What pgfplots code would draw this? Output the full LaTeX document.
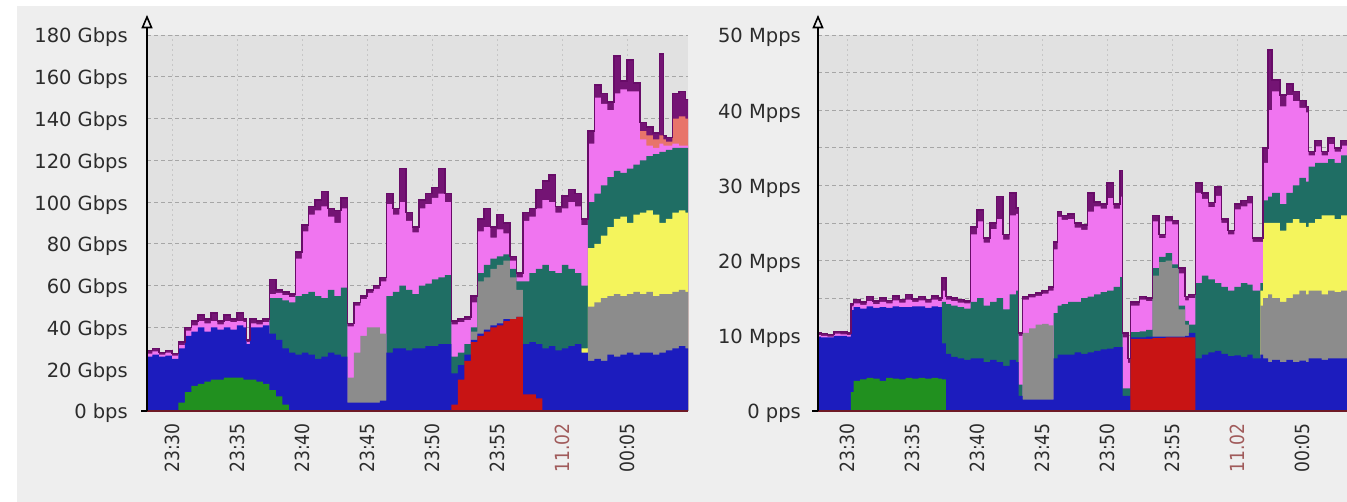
\documentclass[border=0pt]{standalone}
\usepackage{pgfplots}
\pgfplotsset{compat=1.18}
\usepackage{pgfplotstable}
\usepackage{fontspec}
\setmainfont{DejaVu Sans}

\definecolor{panelbg}{HTML}{EEEEEE}
\definecolor{plotbg}{HTML}{E1E1E1}
\definecolor{hgrid}{HTML}{A6A6A6}
\definecolor{vgrid}{HTML}{C6C6C6}
\definecolor{dayline}{HTML}{8A8A8A}
\definecolor{daycol}{HTML}{A05A5A}
\definecolor{txt}{HTML}{2C2C2C}
\definecolor{cblue}{HTML}{1C1CBE}
\definecolor{cgreen}{HTML}{21901F}
\definecolor{cred}{HTML}{C81414}
\definecolor{cgray}{HTML}{8C8C8C}
\definecolor{cteal}{HTML}{1F6E64}
\definecolor{cyellow}{HTML}{F4F45C}
\definecolor{cpink}{HTML}{F075F0}
\definecolor{csalmon}{HTML}{E8746A}
\definecolor{cpurple}{HTML}{741474}
\definecolor{cline}{HTML}{680C68}
\definecolor{zeroline}{HTML}{6E1A26}

% columns: t = minutes after 23:30; cumulative tops of stacked layers
% U top(purple) S salmon P pink T teal Y yellow A gray B blue R red G green
\pgfplotstableread{
t U S P T Y A B R G
-2.0 29 0 27.5 0 0 0 26 0 0
-1.5 30 0 28.5 0 0 0 27 0 0
-1.0 28 0 27 0 0 0 26 0 0
-0.5 29 0 28 0 0 0 26.5 0 0
0.0 27.5 0 26.5 0 0 0 25 0 0
0.5 33 0 31.5 0 0 0 30 0 4
1.0 40 0 38.5 0 0 0 36 0 9
1.5 43 0 41 0 0 0 38 0 12
2.0 46 0 43 0 0 0 40 0 13
2.5 44 0 42 0 0 0 38 0 14
3.0 47 0 43 0 0 0 40 0 15
3.5 43 0 41.5 0 0 0 39 0 15
4.0 46 0 43 0 0 0 40 0 16
4.5 44 0 42.5 0 0 0 39 0 16
5.0 47 0 43 0 0 0 41 0 16
5.5 44 0 42.5 0 0 0 40 0 15
5.75 34 0 33 0 0 0 32 0 15
6.0 44 0 42 0 0 0 40 0 15
6.5 43 0 41.5 0 0 0 40 0 14
7.0 44 0 42.5 0 0 0 41 0 13
7.5 63 0 56 54 0 0 37 0 10
8.0 58 0 56.5 54 0 0 34 0 7
8.5 57 0 55.5 53 0 0 30 0 3
9.0 56 0 54.5 52 0 0 28 0 0
9.5 76 0 73 55 0 0 27 0 0
10.0 89 0 86 56 0 0 28 0 0
10.5 98 0 94 57 0 0 27 0 0
11.0 101 0 96 55 0 0 25 0 0
11.5 105 0 98 54 0 0 26 0 0
12.0 97 0 93 58 0 0 28 0 0
12.5 96 0 90 55 0 0 27 0 0
13.0 102 0 97 59 0 0 26 0 0
13.5 42 0 40.5 0 0 16 4 0 0
14.0 52 0 50.5 0 0 28 4 0 0
14.5 55 0 53.5 0 0 36 4 0 0
15.0 58 0 56.5 0 0 40 4 0 0
15.5 60 0 58.5 0 0 40 4 0 0
16.0 64 0 62 0 0 37 5 0 0
16.5 104 0 99 55 0 0 28 0 0
17.0 97 0 94 57 0 0 30 0 0
17.5 116 0 100 60 0 0 30 0 0
18.0 95 0 91 58 0 0 29 0 0
18.5 88 0 85.5 56 0 0 30 0 0
19.0 101 0 97 60 0 0 30 0 0
19.5 104 0 99 61 0 0 31 0 0
20.0 107 0 102 63 0 0 31 0 0
20.5 116 0 104 64 0 0 32 0 0
21.0 104 0 100 65 0 0 32 0 0
21.5 43 0 41.5 26 0 0 18 3 0
22.0 44 0 42.5 28 0 0 22 15 0
22.5 45 0 43.5 32 0 0 27 24 0
23.0 55 0 52 40 0 38 34 33 0
23.5 92 0 86 66 0 62 37 36 0
24.0 97 0 88 70 0 64 39 38 0
24.5 88 0 83 73 0 68 41 40 0
25.0 94 0 87 74 0 70 42 41 0
25.5 90 0 85 75 0 72 44 43 0
26.0 74 0 72 68 0 64 44 44 0
26.5 66 0 64 62 0 58 45 45 0
27.0 95 0 91 62 0 0 32 8 0
27.5 97 0 93 66 0 0 33 8 0
28.0 106 0 97 68 0 0 32 6 0
28.5 110 0 101 70 0 0 30 0 0
29.0 113 0 100 67 0 0 31 0 0
29.5 98 0 95 66 0 0 29 0 0
30.0 103 0 97 70 0 0 30 0 0
30.5 106 0 100 68 0 0 31 0 0
31.0 104 0 98 66 0 0 32 0 0
31.5 92 0 89 60 30 0 28 0 0
32.0 134 0 128 100 78 50 24 0 0
32.5 156 0 150 104 80 52 25 0 0
33.0 152 0 147 108 84 54 24 0 0
33.5 148 0 144 112 88 55 27 0 0
34.0 170 0 152 115 92 56 26 0 0
34.5 158 0 154 114 93 55 27 0 0
35.0 168 0 153 116 90 56 28 0 0
35.5 157 0 153 118 94 57 27 0 0
36.0 138 134 130 120 95 56 28 0 0
36.5 136 132 127 122 96 57 28 0 0
37.0 133 130 126 123 94 55 27 0 0
37.5 171 132 128 124 90 56 28 0 0
37.8 132 130 127 124 90 56 28 0 0
38.0 131 129 127 125 92 56 29 0 0
38.5 152 140 128 126 95 57 30 0 0
39.0 153 141 127 126 96 58 31 0 0
39.5 149 140 127 126 95 57 30 0 0
40.0 149 140 127 126 95 57 30 0 0
}\leftdata

\pgfplotstableread{
t U S P T Y A B R G
-2.5 10.4 0 10.1 0 0 0 9.9 0 0
-2.0 10.3 0 10.0 0 0 0 9.8 0 0
-1.5 10.2 0 9.9 0 0 0 9.8 0 0
-1.0 10.6 0 10.3 0 0 0 10.0 0 0
-0.5 10.5 0 10.2 0 0 0 10.0 0 0
0.0 10.4 0 10.1 0 0 0 9.9 0 0
0.3 14.2 0 13.9 0 0 0 13.4 0 2.5
0.5 14.8 0 14.3 0 0 0 13.8 0 4.0
1.0 14.5 0 14.1 0 0 0 13.6 0 4.2
1.5 15.2 0 14.6 0 0 0 13.9 0 4.4
2.0 14.6 0 14.2 0 0 0 13.7 0 4.3
2.5 15.0 0 14.5 0 0 0 13.8 0 4.0
3.0 14.7 0 14.3 0 0 0 13.7 0 4.4
3.5 15.3 0 14.7 0 0 0 13.9 0 4.3
4.0 14.8 0 14.4 0 0 0 13.8 0 4.2
4.5 15.5 0 14.8 0 0 0 13.8 0 4.4
5.0 14.9 0 14.5 0 0 0 13.9 0 4.3
5.5 15.2 0 14.7 0 0 0 13.9 0 4.4
6.0 14.8 0 14.4 0 0 0 13.7 0 4.3
6.5 15.3 0 14.8 0 0 0 13.9 0 4.4
7.0 15.0 0 14.6 0 0 0 13.8 0 4.3
7.3 17.7 0 16.0 14.5 0 0 9.0 0 4.2
7.6 15.2 0 14.8 14.2 0 0 7.6 0 0
8.0 15.0 0 14.6 14.0 0 0 7.2 0 0
8.5 14.8 0 14.4 13.8 0 0 7.0 0 0
9.0 14.6 0 14.3 13.6 0 0 6.8 0 0
9.5 24.5 0 23.5 14.5 0 0 7.0 0 0
10.0 26.7 0 25.2 15.0 0 0 7.0 0 0
10.5 23.0 0 22.4 14.0 0 0 6.5 0 0
11.0 25.0 0 24.2 14.5 0 0 6.8 0 0
11.5 28.5 0 25.5 15.0 0 0 6.5 0 0
12.0 23.5 0 22.8 13.5 0 0 6.0 0 0
12.5 29.0 0 26.0 15.5 0 0 6.8 0 0
13.0 27.0 0 26.2 16.0 0 0 6.5 0 0
13.2 10.4 0 10.0 3.5 0 0 2.0 0 0
13.5 15.2 0 14.8 0 0 10.4 1.5 0 0
14.0 15.5 0 15.1 0 0 11.0 1.5 0 0
14.5 15.7 0 15.3 0 0 11.5 1.5 0 0
15.0 16.0 0 15.6 0 0 11.6 1.5 0 0
15.5 16.5 0 16.0 0 0 11.4 1.5 0 0
15.9 22.5 0 21.5 13.0 0 0 7.0 0 0
16.2 26.5 0 25.8 14.0 0 0 7.5 0 0
16.5 26.0 0 25.4 14.2 0 0 7.5 0 0
17.0 26.2 0 25.5 14.5 0 0 7.5 0 0
17.5 25.0 0 24.4 14.5 0 0 7.8 0 0
18.0 24.7 0 24.1 15.0 0 0 7.6 0 0
18.5 29.0 0 26.5 15.2 0 0 7.8 0 0
19.0 27.8 0 27.2 15.5 0 0 8.0 0 0
19.5 27.5 0 26.9 15.8 0 0 8.2 0 0
20.0 30.3 0 28.3 16.0 0 0 8.3 0 0
20.5 27.5 0 26.9 16.5 0 0 8.5 0 0
21.0 32.0 0 28.5 17.8 0 0 8.5 0 0
21.2 10.4 0 9.8 3.0 0 0 2.0 0 0
21.6 7.0 0 6.4 3.0 0 0 2.0 0 0
21.8 14.5 0 14.0 10.5 0 0 9.8 9.6 0
22.5 15.2 0 14.8 10.6 0 0 9.8 9.6 0
23.0 15.0 0 14.6 10.8 0 0 9.9 9.6 0
23.5 26.0 0 25.2 19.0 0 18.0 9.9 9.7 0
24.0 23.5 0 23.0 20.5 0 19.8 9.9 9.7 0
24.5 25.8 0 25.2 21.0 0 20.0 9.9 9.8 0
25.0 25.3 0 24.8 19.5 0 19.0 9.9 9.8 0
25.5 19.0 0 18.3 14.0 0 13.5 9.9 9.8 0
26.0 15.2 0 14.7 12.0 0 11.5 10.0 9.8 0
26.3 15.5 0 15.0 11.5 0 0 10.4 9.8 0
26.8 30.3 0 29.0 17.0 0 0 7.0 0 0
27.3 29.0 0 28.2 18.0 0 0 7.5 0 0
27.8 27.7 0 27.1 17.5 0 0 7.8 0 0
28.3 29.8 0 28.6 17.0 0 0 8.0 0 0
28.8 25.5 0 25.0 16.5 0 0 7.6 0 0
29.3 24.0 0 23.5 16.0 0 0 7.3 0 0
29.8 27.5 0 26.8 16.5 0 0 7.4 0 0
30.3 28.0 0 27.2 17.0 0 0 7.2 0 0
30.8 28.5 0 27.6 16.8 0 0 7.5 0 0
31.2 23.0 0 22.5 16.0 0 0 7.0 0 0
31.8 23.0 0 22.5 17.0 16.0 14.0 7.5 0 0
32.0 35.0 0 33.0 28.0 25.0 15.0 7.0 0 0
32.4 48.0 0 40.0 28.5 25.0 15.5 6.5 0 0
32.7 44.0 0 42.5 29.0 25.0 15.0 6.8 0 0
33.3 42.0 0 40.5 27.5 24.0 14.5 6.5 0 0
33.8 43.5 0 42.0 29.0 25.0 15.0 6.8 0 0
34.3 42.5 0 41.2 30.0 25.5 15.5 6.5 0 0
34.8 41.3 0 40.3 31.0 25.0 16.0 6.7 0 0
35.3 40.5 0 39.7 30.5 24.5 15.5 6.5 0 0
35.5 34.5 0 34.0 32.5 25.0 16.0 7.0 0 0
36.0 36.0 0 35.2 33.0 25.5 16.0 7.0 0 0
36.5 34.5 0 34.0 33.0 26.0 15.5 6.8 0 0
37.0 36.3 0 35.5 33.5 26.0 16.0 7.0 0 0
37.5 35.0 0 34.5 33.0 25.5 15.8 7.0 0 0
38.0 36.0 0 35.3 34.0 26.0 16.0 7.0 0 0
38.5 36.0 0 35.3 34.0 26.0 16.0 7.0 0 0
}\rightdata

\pgfplotsset{
  zbx/.style={
    scale only axis, anchor=south west, clip=true,
    axis background/.style={fill=plotbg},
    axis line style={draw=none}, tick style={draw=none}, major tick length=0pt,
    xtick={0,5,...,35},
    xticklabels={23:30,23:35,23:40,23:45,23:50,23:55,{\textcolor{daycol}{11.02}},00:05},
    xmajorgrids, ymajorgrids,
    x grid style={draw=vgrid, line width=0.8pt, dash pattern=on 2pt off 3pt},
    y grid style={draw=hgrid, line width=0.8pt, dash pattern=on 4pt off 3pt},
    extra x ticks={30}, extra x tick labels={},
    extra x tick style={grid=major, major grid style={draw=dayline, line width=0.8pt, dash pattern=on 3pt off 3pt}},
    xticklabel style={rotate=90, anchor=east, inner sep=0pt, text=txt, font=\fontsize{19.5pt}{20pt}\selectfont, xscale=0.88},
    xticklabel shift=12pt,
    yticklabel style={anchor=base east, inner sep=0pt, text=txt, font=\fontsize{19.5pt}{20pt}\selectfont, yshift=-8pt},
  },
  lay/.style={const plot, draw=none, fill=#1, forget plot},
}

\begin{document}
\begin{tikzpicture}
\useasboundingbox (0,0) rectangle (1347pt,502pt);
\fill[white] (0,0) rectangle (1347pt,502pt);
\fill[panelbg] (17pt,0) rectangle (1347pt,496pt);

\begin{axis}[zbx, name=L, at={(147pt,91pt)}, width=541pt, height=376pt,
  xmin=-1.92, xmax=39.7, ymin=0, ymax=180,
  ytick={0,20,...,180},
  yticklabels={0 bps,20 Gbps,40 Gbps,60 Gbps,80 Gbps,100 Gbps,120 Gbps,140 Gbps,160 Gbps,180 Gbps},
  yticklabel shift=19pt]
\addplot[lay=cpurple] table[x=t,y=U]{\leftdata} \closedcycle;
\addplot[lay=csalmon] table[x=t,y=S]{\leftdata} \closedcycle;
\addplot[lay=cpink] table[x=t,y=P]{\leftdata} \closedcycle;
\addplot[lay=cteal] table[x=t,y=T]{\leftdata} \closedcycle;
\addplot[lay=cyellow] table[x=t,y=Y]{\leftdata} \closedcycle;
\addplot[lay=cgray] table[x=t,y=A]{\leftdata} \closedcycle;
\addplot[lay=cblue] table[x=t,y=B]{\leftdata} \closedcycle;
\addplot[lay=cred] table[x=t,y=R]{\leftdata} \closedcycle;
\addplot[lay=cgreen] table[x=t,y=G]{\leftdata} \closedcycle;
\addplot[const plot, draw=cline, line width=1.5pt, forget plot] table[x=t,y=U]{\leftdata};
\end{axis}
\draw[zeroline, line width=2.5pt] (L.south west) -- (L.south east);
\draw[black, line width=2pt] ([xshift=-6pt]L.south west) -- (L.south west);
\draw[black, line width=2pt] (L.south west) -- ([yshift=8pt]L.north west);
\draw[black, line width=1.6pt, fill=panelbg, line join=miter] ([xshift=-4.5pt,yshift=7.5pt]L.north west) -- ([xshift=4.5pt,yshift=7.5pt]L.north west) -- ([yshift=18pt]L.north west) -- cycle;

\begin{axis}[zbx, name=R, at={(818pt,91pt)}, width=529pt, height=376pt,
  xmin=-2.23, xmax=38.46, ymin=0, ymax=50,
  ytick={0,5,...,50},
  yticklabels={0 pps,,10 Mpps,,20 Mpps,,30 Mpps,,40 Mpps,,50 Mpps},
  yticklabel shift=17pt]
\addplot[lay=cpurple] table[x=t,y=U]{\rightdata} \closedcycle;
\addplot[lay=csalmon] table[x=t,y=S]{\rightdata} \closedcycle;
\addplot[lay=cpink] table[x=t,y=P]{\rightdata} \closedcycle;
\addplot[lay=cteal] table[x=t,y=T]{\rightdata} \closedcycle;
\addplot[lay=cyellow] table[x=t,y=Y]{\rightdata} \closedcycle;
\addplot[lay=cgray] table[x=t,y=A]{\rightdata} \closedcycle;
\addplot[lay=cblue] table[x=t,y=B]{\rightdata} \closedcycle;
\addplot[lay=cred] table[x=t,y=R]{\rightdata} \closedcycle;
\addplot[lay=cgreen] table[x=t,y=G]{\rightdata} \closedcycle;
\addplot[const plot, draw=cline, line width=1.5pt, forget plot] table[x=t,y=U]{\rightdata};
\end{axis}
\draw[zeroline, line width=2.5pt] (R.south west) -- (R.south east);
\draw[black, line width=2pt] ([xshift=-6pt]R.south west) -- (R.south west);
\draw[black, line width=2pt] (R.south west) -- ([yshift=8pt]R.north west);
\draw[black, line width=1.6pt, fill=panelbg, line join=miter] ([xshift=-4.5pt,yshift=7.5pt]R.north west) -- ([xshift=4.5pt,yshift=7.5pt]R.north west) -- ([yshift=18pt]R.north west) -- cycle;
\end{tikzpicture}
\end{document}
